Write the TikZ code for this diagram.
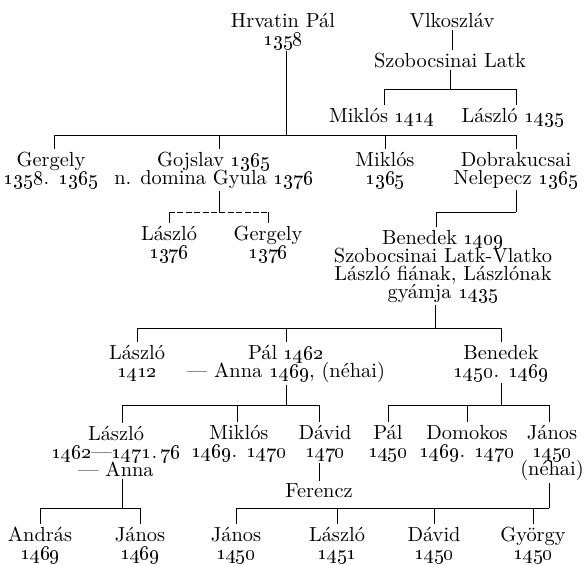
\documentclass[tikz,border=0pt]{standalone}
\newcommand\yr[1]{\oldstylenums{#1}}
\tikzset{
  person/.style={anchor=base, align=center, inner sep=1pt,
    font=\fontsize{10.2}{9}\selectfont,
    execute at begin node={\lineskiplimit=-50pt\lineskip=0pt}},
  link/.style={line width=0.5pt},
  looselink/.style={link, dash pattern=on 3pt off 1.2pt},
}
\begin{document}
\begin{tikzpicture}[x=0.5pt,y=-0.5pt]
\useasboundingbox (0,0) rectangle (585,564);
\fill[white] (0,0) rectangle (585,564);

% ---- people (each placed at the baseline of its last line) ----
\node[person] (hrv)  at (283,45)  {Hrvatin Pál\\\yr{1358}};
\node[person] (vlk)  at (452,27)  {Vlkoszláv};
\node[person] (szl)  at (450,67)  {Szobocsinai Latk};
\node[person] (mik1) at (382,122) {Miklós \yr{1414}};
\node[person] (las1) at (513,122) {László \yr{1435}};

\node[person] (ger)  at (51,184)  {Gergely\\\yr{1358}. \yr{1365}};
\node[person] (goj)  at (214,184) {Gojslav \yr{1365}\\n. domina Gyula \yr{1376}};
\node[person] (mik2) at (385,184) {Miklós\\\yr{1365}};
\node[person] (dob)  at (516,184) {Dobrakucsai\\Nelepecz \yr{1365}};

\node[person] (las2) at (169,258) {László\\\yr{1376}};
\node[person] (ger2) at (268,258) {Gergely\\\yr{1376}};
\node[person] (ben1) at (443,298) {Benedek \yr{1409}\\Szobocsinai Latk-Vlatko\\László fiának, Lászlónak\\gyámja \yr{1435}};

\node[person] (las3) at (137,377) {László\\\yr{1412}};
\node[person] (pal)  at (286,377) {Pál \yr{1462}\\--- Anna \yr{1469}, (néhai)};
\node[person] (ben2) at (501,377) {Benedek\\\yr{1450}. \yr{1469}};

\node[person] (las4) at (116,476) {László\\\yr{1462}---\yr{1471}.\,\yr{76}\\--- Anna};
\node[person] (mik4) at (239,457) {Miklós\\\yr{1469}. \yr{1470}};
\node[person] (dav)  at (325,457) {Dávid\\\yr{1470}};
\node[person] (fer)  at (319,497) {Ferencz};
\node[person] (pal4) at (388,457) {Pál\\\yr{1450}};
\node[person] (dom)  at (467,457) {Domokos\\\yr{1469}. \yr{1470}};
\node[person] (jan4) at (552,475) {János\\\yr{1450}\\(néhai)};

\node[person] (and)  at (40,559)  {András\\\yr{1469}};
\node[person] (jan5) at (140,559) {János\\\yr{1469}};
\node[person] (jan6) at (236,559) {János\\\yr{1450}};
\node[person] (las6) at (337,559) {László\\\yr{1451}};
\node[person] (dav6) at (434,559) {Dávid\\\yr{1450}};
\node[person] (gyo)  at (533,559) {György\\\yr{1450}};

% ---- levels of the family bars ----
\coordinate (barA) at (0,89);
\coordinate (barB) at (0,135);
\coordinate (barC) at (0,212);
\coordinate (barD) at (0,328);
\coordinate (barE) at (0,405);
\coordinate (barF) at (0,508);

% points where a line leaves a name off its centre
\coordinate (hrvB)  at ([xshift=1.5pt]hrv.south);
\coordinate (gerT)  at ([xshift=1.5pt]ger.north);
\coordinate (gojB)  at ([xshift=2.5pt]goj.south);
\coordinate (ben1T) at ([xshift=-3.5pt]ben1.north);
\coordinate (ben1B) at ([xshift=-4pt]ben1.south);
\coordinate (davT)  at ([xshift=-3pt]dav.north);
\coordinate (davB)  at ([xshift=-3pt]dav.south);
\coordinate (jan4T) at ([xshift=-1.5pt]jan4.north);
\coordinate (jan4B) at ([xshift=-1.5pt]jan4.south);
\coordinate (las4B) at ([xshift=3pt]las4.south);
\coordinate (mik4T) at ([xshift=-1pt]mik4.north);
\coordinate (mik1T) at ([xshift=1pt]mik1.north);
\coordinate (las1T) at ([xshift=1.5pt]las1.north);

% ---- Vlkoszláv and Szobocsinai Latk ----
\draw[link] (vlk.south) -- (vlk.south |- szl.north);
\draw[link] (szl.south) -- (szl.south |- barA);
\draw[link] (mik1T |- barA) -- (las1T |- barA);
\foreach \c in {mik1T,las1T} \draw[link] (\c |- barA) -- (\c);

% ---- Hrvatin Pál ----
\draw[link] (hrvB) -- (hrvB |- barB);
\draw[link] (gerT |- barB) -- (dob.north |- barB);
\foreach \c in {gerT,mik2.north,dob.north} \draw[link] (\c |- barB) -- (\c);
\draw[link] (gojB |- barB) -- (gojB |- goj.north);

% ---- Gojslav ----
\draw[link] (gojB) -- (gojB |- barC);
\draw[looselink] (las2.north |- barC) -- (ger2.north |- barC);
\foreach \c in {las2,ger2} \draw[link] (\c.north |- barC) -- (\c.north);

% ---- Dobrakucsai Nelepecz ----
\draw[link] (dob.south) -- (dob.south |- barC);
\draw[link] (ben1T |- barC) -- (dob.south |- barC);
\draw[link] (ben1T |- barC) -- (ben1T);

% ---- Benedek 1409 ----
\draw[link] (ben1B) -- (ben1B |- barD);
\draw[link] (las3.north |- barD) -- (ben2.north |- barD);
\foreach \c in {las3,pal,ben2} \draw[link] (\c.north |- barD) -- (\c.north);

% ---- Pál 1462 ----
\draw[link] (pal.south) -- (pal.south |- barE);
\draw[link] (las4B |- barE) -- (davT |- barE);
\draw[link] (las4B |- barE) -- (las4B |- las4.north);
\foreach \c in {mik4T,davT} \draw[link] (\c |- barE) -- (\c);
\draw[link] (davB) -- (davB |- fer.north);

% ---- Benedek 1450 ----
\draw[link] (ben2.south) -- (ben2.south |- barE);
\draw[link] (pal4.north |- barE) -- (jan4T |- barE);
\foreach \c in {pal4.north,dom.north,jan4T} \draw[link] (\c |- barE) -- (\c);

% ---- László 1462 ----
\draw[link] (las4B) -- (las4B |- barF);
\draw[link] (and.north |- barF) -- (jan5.north |- barF);
\foreach \c in {and,jan5} \draw[link] (\c.north |- barF) -- (\c.north);

% ---- János 1450 ----
\draw[link] (jan4B) -- (jan4B |- barF);
\draw[link] (jan6.north |- barF) -- (jan4B |- barF);
\foreach \c in {jan6,las6,dav6,gyo} \draw[link] (\c.north |- barF) -- (\c.north);
\end{tikzpicture}
\end{document}
